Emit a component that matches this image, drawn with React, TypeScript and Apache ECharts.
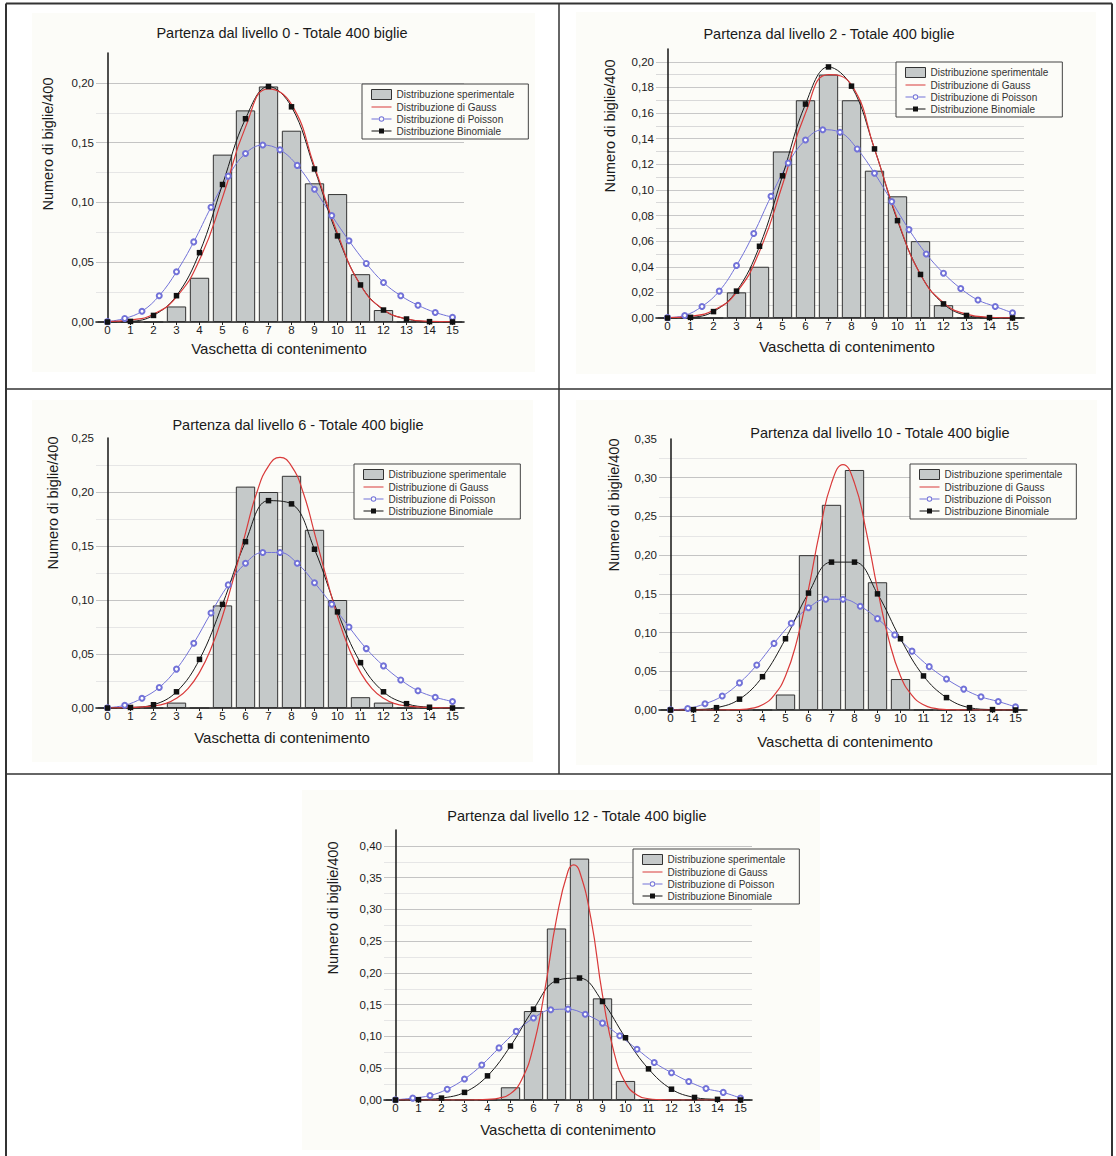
import React, { useEffect, useRef } from 'react';
import * as echarts from 'echarts';

const FONT = "'Liberation Sans', Arial, Helvetica, sans-serif";

// ---------- data ----------
const binLabels = ['0', '1', '2', '3', '4', '5', '6', '7', '8', '9', '10', '11', '12', '13', '14', '15'];
const binX = [0, 1, 2, 3, 4, 5, 6, 7, 8, 9, 10, 11, 12, 13, 14, 15];
const poissonX = [0, 0.75, 1.5, 2.25, 3, 3.75, 4.5, 5.25, 6, 6.75, 7.5, 8.25, 9, 9.75, 10.5, 11.25, 12, 12.75, 13.5, 14.25, 15];
const gaussXBroad = [0, 1, 2, 3, 4, 5, 6, 7, 8, 9, 10, 11, 12, 13, 14, 15];
const gaussXNarrow = [0, 1, 2, 2.5, 3, 3.5, 4, 4.5, 5, 5.5, 6, 6.5, 7, 7.5, 8, 8.5, 9, 9.5, 10, 10.5, 11, 11.5, 12, 12.5, 13, 14, 15];
const gaussXPeaked = [0, 1, 2, 3, 3.5, 4, 4.5, 5, 5.5, 6, 6.5, 7, 7.5, 7.75, 8, 8.5, 9, 9.5, 10, 10.5, 11, 11.5, 12, 13, 14, 15];

const titles = [
  'Partenza dal livello 0 - Totale 400 biglie',
  'Partenza dal livello 2 - Totale 400 biglie',
  'Partenza dal livello 6 - Totale 400 biglie',
  'Partenza dal livello 10 - Totale 400 biglie',
  'Partenza dal livello 12 - Totale 400 biglie',
];

// level 0
const exp0 = [0, 0, 0, 0.013, 0.037, 0.14, 0.177, 0.197, 0.16, 0.116, 0.107, 0.04, 0.01, 0, 0, 0];
const bin0 = [0, 0.0005, 0.0055, 0.022, 0.058, 0.115, 0.17, 0.197, 0.18, 0.128, 0.072, 0.031, 0.01, 0.0025, 0.0003, 0];
const gauss0 = [0.0004, 0.0017, 0.0065, 0.021, 0.052, 0.104, 0.163, 0.195, 0.182, 0.13, 0.074, 0.031, 0.0105, 0.0027, 0.0005, 0.0001];
const poisson0 = [0.0003, 0.003, 0.009, 0.022, 0.042, 0.067, 0.096, 0.122, 0.141, 0.148, 0.144, 0.131, 0.111, 0.089, 0.068, 0.049, 0.033, 0.022, 0.014, 0.008, 0.004];

// level 2
const exp2 = [0, 0, 0, 0.02, 0.04, 0.13, 0.17, 0.19, 0.17, 0.115, 0.095, 0.06, 0.01, 0, 0, 0];
const bin2 = [0, 0.0005, 0.005, 0.021, 0.056, 0.111, 0.167, 0.196, 0.181, 0.132, 0.076, 0.034, 0.011, 0.002, 0.0003, 0];
const gauss2 = [0.0003, 0.0015, 0.006, 0.02, 0.052, 0.104, 0.16, 0.19, 0.182, 0.132, 0.077, 0.034, 0.012, 0.003, 0.0006, 0.0001];
const poisson2 = [0.0003, 0.002, 0.009, 0.021, 0.041, 0.066, 0.095, 0.121, 0.139, 0.147, 0.145, 0.132, 0.113, 0.091, 0.069, 0.05, 0.035, 0.023, 0.014, 0.009, 0.004];

// level 6
const exp6 = [0, 0, 0, 0.005, 0, 0.095, 0.205, 0.2, 0.215, 0.165, 0.1, 0.01, 0.005, 0, 0, 0];
const bin6 = [0, 0.0005, 0.003, 0.015, 0.045, 0.096, 0.154, 0.192, 0.189, 0.147, 0.089, 0.042, 0.015, 0.004, 0.0007, 0];
const gauss6 = [0, 0.0003, 0.002, 0.004, 0.009, 0.018, 0.033, 0.055, 0.085, 0.122, 0.162, 0.2, 0.224, 0.232, 0.224, 0.2, 0.162, 0.122, 0.085, 0.055, 0.033, 0.018, 0.009, 0.004, 0.002, 0.0003, 0];
const poisson6 = [0.0003, 0.0025, 0.009, 0.019, 0.036, 0.06, 0.088, 0.114, 0.134, 0.144, 0.144, 0.134, 0.116, 0.096, 0.075, 0.055, 0.039, 0.026, 0.016, 0.01, 0.006];

// level 10
const exp10 = [0, 0, 0, 0, 0, 0.02, 0.2, 0.265, 0.31, 0.165, 0.04, 0, 0, 0, 0, 0];
const bin10 = [0, 0.0005, 0.003, 0.014, 0.043, 0.092, 0.151, 0.191, 0.191, 0.15, 0.092, 0.044, 0.016, 0.003, 0.0005, 0];
const gauss10 = [0, 0, 0, 0.0001, 0.0005, 0.002, 0.0067, 0.019, 0.044, 0.09, 0.156, 0.232, 0.293, 0.317, 0.293, 0.232, 0.156, 0.09, 0.044, 0.019, 0.0067, 0.002, 0.0005, 0.0001, 0, 0, 0];
const poisson10 = [0.0003, 0.002, 0.008, 0.018, 0.035, 0.058, 0.086, 0.112, 0.132, 0.143, 0.143, 0.134, 0.118, 0.097, 0.076, 0.056, 0.04, 0.027, 0.017, 0.011, 0.004];

// level 12
const exp12 = [0, 0, 0, 0, 0, 0.02, 0.14, 0.27, 0.38, 0.16, 0.03, 0, 0, 0, 0, 0];
const bin12 = [0, 0.0005, 0.003, 0.012, 0.038, 0.085, 0.143, 0.188, 0.192, 0.155, 0.098, 0.049, 0.017, 0.004, 0.001, 0];
const gauss12 = [0, 0, 0, 0, 0.0002, 0.001, 0.003, 0.01, 0.033, 0.085, 0.175, 0.285, 0.36, 0.37, 0.36, 0.285, 0.165, 0.075, 0.027, 0.008, 0.002, 0.0005, 0, 0, 0, 0];
const poisson12 = [0.0003, 0.003, 0.007, 0.017, 0.033, 0.055, 0.082, 0.108, 0.129, 0.142, 0.143, 0.135, 0.121, 0.101, 0.08, 0.059, 0.043, 0.029, 0.018, 0.012, 0.003];

const yMaxes = [0.225, 0.21, 0.25, 0.35, 0.425];
const ySteps = [0.025, 0.01, 0.025, 0.025, 0.025];
const yLabelEvery = [2, 2, 2, 2, 2];

const panelData = [
  { exp: exp0, bin: bin0, gx: gaussXBroad, gy: gauss0, poi: poisson0 },
  { exp: exp2, bin: bin2, gx: gaussXBroad, gy: gauss2, poi: poisson2 },
  { exp: exp6, bin: bin6, gx: gaussXNarrow, gy: gauss6, poi: poisson6 },
  { exp: exp10, bin: bin10, gx: gaussXNarrow, gy: gauss10, poi: poisson10 },
  { exp: exp12, bin: bin12, gx: gaussXPeaked, gy: gauss12, poi: poisson12 },
];

const seriesNames = ['Distribuzione sperimentale', 'Distribuzione di Gauss', 'Distribuzione di Poisson', 'Distribuzione Binomiale'];
const xAxisName = 'Vaschetta di contenimento';
const yAxisName = 'Numero di biglie/400';

// ---------- layout & style ----------
const GRID_W = 368;
const layout = [
  { left: 96, top: 53, h: 269, titleX: 282, titleY: 33, legL: 362, legT: 84, ynX: 48, ynY: 144, xnX: 279, xnY: 348, bg: [32, 13, 535, 372] },
  { left: 656, top: 49, h: 269, titleX: 829, titleY: 34, legL: 896, legT: 62, ynX: 610, ynY: 126, xnX: 847, xnY: 346, bg: [576, 12, 1096, 374] },
  { left: 96, top: 438, h: 270, titleX: 298, titleY: 425, legL: 354, legT: 464, ynX: 53, ynY: 503, xnX: 282, xnY: 737, bg: [32, 400, 533, 762] },
  { left: 659, top: 439, h: 271, titleX: 880, titleY: 433, legL: 910, legT: 464, ynX: 614, ynY: 505, xnX: 845, xnY: 741, bg: [576, 400, 1097, 765] },
  { left: 384, top: 830, h: 270, titleX: 577, titleY: 816, legL: 633, legT: 849, ynX: 333, ynY: 908, xnX: 568, xnY: 1129, bg: [302, 790, 820, 1150] },
];

const BG = '#fcfcf8';
const MAJOR = '#c4c4c4';
const MINOR = '#e6e6e6';
const BAR_FILL = '#c5c9c9';
const GAUSS_C = '#d93a3a';
const POIS_C = '#7272d8';
const BIN_C = '#111111';

const ICON_GAUSS = 'path://M0,4.5 L20,4.5 L20,5.5 L0,5.5 Z';
const ICON_POIS = 'path://M0,4.5 L7.4,4.5 L7.4,5.5 L0,5.5 Z M12.6,4.5 L20,4.5 L20,5.5 L12.6,5.5 Z M10,2.2 A2.8,2.8 0 1,0 10,7.8 A2.8,2.8 0 1,0 10,2.2 Z M10,3.2 A1.8,1.8 0 1,1 10,6.8 A1.8,1.8 0 1,1 10,3.2 Z';
const ICON_BIN = 'path://M0,4.5 L7.5,4.5 L7.5,2.5 L12.5,2.5 L12.5,4.5 L20,4.5 L20,5.5 L12.5,5.5 L12.5,7.5 L7.5,7.5 L7.5,5.5 L0,5.5 Z';

function buildOption() {
  const grid: any[] = [];
  const xAxis: any[] = [];
  const yAxis: any[] = [];
  const series: any[] = [];
  const legend: any[] = [];
  const graphic: any[] = [];

  layout.forEach((L, i) => {
    const D = panelData[i];
    const step = ySteps[i];
    const every = yLabelEvery[i];
    grid.push({ left: L.left, top: L.top, width: GRID_W, height: L.h, containLabel: false });
    xAxis.push({
      type: 'category', gridIndex: i, data: binLabels, boundaryGap: true, position: 'bottom',
      axisLine: { show: true, lineStyle: { color: '#222', width: 1.6 } },
      axisTick: { show: true, alignWithLabel: true, length: 3, lineStyle: { color: '#222' } },
      axisLabel: { interval: 0, fontSize: 11.5, color: '#1a1a1a', margin: 2, fontFamily: FONT },
      splitLine: { show: false },
    });
    xAxis.push({ type: 'value', gridIndex: i, min: -0.5, max: 15.5, show: false, position: 'bottom' });
    const nSteps = Math.round(yMaxes[i] / step);
    const splitColors: string[] = [];
    for (let k = 0; k <= nSteps; k++) {
      if (i === 1) splitColors.push(k % 2 === 0 ? '#c8c8c8' : '#d9d9d9');
      else splitColors.push(k % every === 0 ? MAJOR : MINOR);
    }
    yAxis.push({
      type: 'value', gridIndex: i, min: 0, max: yMaxes[i], interval: step,
      axisLine: { show: true, lineStyle: { color: '#222', width: 1.6 } },
      axisTick: { show: false },
      axisLabel: {
        fontSize: 11.5, color: '#1a1a1a', margin: 2, fontFamily: FONT,
        formatter: (v: number) => (Math.round(v / step) % every === 0 ? v.toFixed(2).replace('.', ',') : ''),
      },
      splitLine: { show: true, showMaxLine: false, lineStyle: { color: splitColors, width: 1 } },
    });

    series.push({
      type: 'bar', name: seriesNames[0], xAxisIndex: 2 * i, yAxisIndex: i, data: D.exp,
      barCategoryGap: '16%',
      itemStyle: { color: BAR_FILL, borderColor: '#333', borderWidth: 1 },
    });
    series.push({
      type: 'line', name: seriesNames[2], xAxisIndex: 2 * i + 1, yAxisIndex: i,
      data: poissonX.map((x, j) => [x, D.poi[j]]),
      smooth: 0.4, symbol: 'emptyCircle', symbolSize: 5,
      lineStyle: { color: POIS_C, width: 1 },
      itemStyle: { color: POIS_C, borderWidth: 1 },
    });
    series.push({
      type: 'line', name: seriesNames[3], xAxisIndex: 2 * i + 1, yAxisIndex: i,
      data: binX.map((x, j) => [x, D.bin[j]]),
      smooth: 0.4, symbol: 'rect', symbolSize: 5.5,
      lineStyle: { color: '#1a1a1a', width: 1 },
      itemStyle: { color: BIN_C },
    });
    series.push({
      type: 'line', name: seriesNames[1], xAxisIndex: 2 * i + 1, yAxisIndex: i,
      data: D.gx.map((x, j) => [x, D.gy[j]]),
      smooth: 0.5, symbol: 'none',
      lineStyle: { color: GAUSS_C, width: 1.2 },
      itemStyle: { color: GAUSS_C },
    });

    legend.push({
      left: L.legL, top: L.legT, orient: 'vertical',
      itemWidth: 20, itemHeight: 10, itemGap: 2,
      padding: [5, 14, 3, 9],
      borderColor: '#444', borderWidth: 1, backgroundColor: BG,
      selectedMode: false,
      itemStyle: { borderWidth: 0 },
      textStyle: { fontSize: 10, color: '#333', fontFamily: FONT },
      data: [
        { name: seriesNames[0], icon: 'rect', itemStyle: { color: BAR_FILL, borderColor: '#333', borderWidth: 1 } },
        { name: seriesNames[1], icon: ICON_GAUSS, itemStyle: { color: GAUSS_C, borderWidth: 0 } },
        { name: seriesNames[2], icon: ICON_POIS, itemStyle: { color: POIS_C, borderWidth: 0 } },
        { name: seriesNames[3], icon: ICON_BIN, itemStyle: { color: BIN_C, borderWidth: 0 } },
      ],
    });

    const [bx0, by0, bx1, by1] = L.bg;
    graphic.push({ type: 'rect', z: -100, silent: true, shape: { x: bx0, y: by0, width: bx1 - bx0, height: by1 - by0 }, style: { fill: BG } });
    graphic.push({ type: 'text', z: 100, x: L.titleX, y: L.titleY, style: { text: titles[i], fontSize: 14.5, fontFamily: FONT, fill: '#1a1a1a', align: 'center', verticalAlign: 'middle' } });
    graphic.push({ type: 'text', z: 100, x: L.xnX, y: L.xnY, style: { text: xAxisName, fontSize: 15, fontFamily: FONT, fill: '#1a1a1a', align: 'center', verticalAlign: 'middle' } });
    graphic.push({ type: 'text', z: 100, x: L.ynX, y: L.ynY, rotation: Math.PI / 2, style: { text: yAxisName, fontSize: 14.5, fontFamily: FONT, fill: '#1a1a1a', align: 'center', verticalAlign: 'middle' } });
  });

  // table borders
  const border = (x1: number, y1: number, x2: number, y2: number, w: number) => ({
    type: 'line', z: 200, silent: true, shape: { x1, y1, x2, y2 }, style: { stroke: '#333', lineWidth: w },
  });
  graphic.push(border(6, 3.5, 1112, 3.5, 2));
  graphic.push(border(6, 3.5, 6, 1160, 2));
  graphic.push(border(1112, 3.5, 1112, 1160, 2));
  graphic.push(border(6, 389, 1112, 389, 1.5));
  graphic.push(border(6, 774, 1112, 774, 1.5));
  graphic.push(border(559, 3.5, 559, 774, 1.5));

  return {
    animation: false,
    backgroundColor: '#ffffff',
    textStyle: { fontFamily: FONT },
    grid, xAxis, yAxis, series, legend, graphic,
  };
}

export default function App() {
  const ref = useRef<HTMLDivElement>(null);
  useEffect(() => {
    if (!ref.current) return;
    const chart = echarts.init(ref.current, null, { renderer: 'svg' });
    chart.setOption(buildOption() as any);
    return () => chart.dispose();
  }, []);
  return <div ref={ref} style={{ position: 'absolute', left: 0, top: 0, width: 1116, height: 1156 }} />;
}
